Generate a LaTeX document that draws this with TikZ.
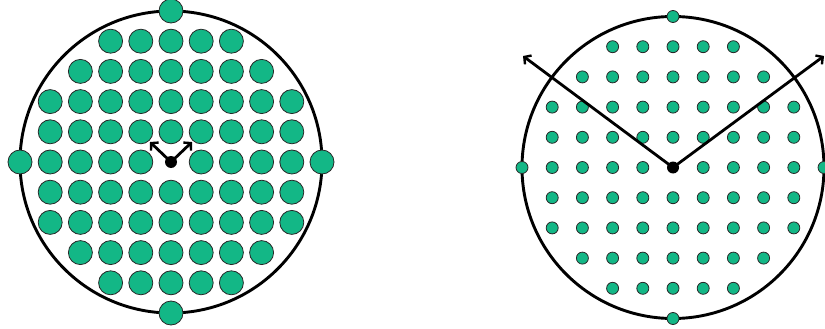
\documentclass[tikz,border=0pt]{standalone}
\usetikzlibrary{arrows.meta}
\definecolor{dotgreen}{RGB}{19,183,134}
\definecolor{dotedge}{RGB}{40,40,40}
\begin{document}
\begin{tikzpicture}[x=1pt,y=-1pt,
  bigdot/.style={circle,draw=dotedge,fill=dotgreen,line width=0.8pt,inner sep=0pt,minimum size=24pt},
  smalldot/.style={circle,draw=dotedge,fill=dotgreen,line width=0.8pt,inner sep=0pt,minimum size=12pt},
  ring/.style={circle,draw=black,line width=2.9pt,inner sep=0pt,minimum size=302pt},
  hub/.style={circle,fill=black,inner sep=0pt,minimum size=12pt},
  arr/.style={line width=2.8pt,-{Straight Barb[length=5pt,width=11pt,line width=2.4pt]}}]
\useasboundingbox (0,0) rectangle (825,329);
% left figure
\node[ring] (Lring) at (171,162) {};
\foreach \i in {-4,...,4}{
  \foreach \j in {-4,...,4}{
    \pgfmathtruncatemacro\rr{\i*\i+\j*\j}
    \ifnum\rr<21 \ifnum\rr>0
      \node[bigdot] (L\i x\j) at ({171+30.2*\i},{162+30.2*\j}) {};
    \fi\fi
  }
}
\node[bigdot] (Ltop) at (171,11) {};
\node[bigdot] (Lbot) at (171,313) {};
\node[bigdot] (Lleft) at (20,162) {};
\node[bigdot] (Lright) at (322,162) {};
\node[hub] (Lc) at (171,162) {};
\coordinate (Lt1) at (150,142);
\coordinate (Lt2) at (192,142);
\draw[arr] (Lc.center) -- (Lt1);
\draw[arr] (Lc.center) -- (Lt2);
% right figure
\node[ring] (Rring) at (673,167.5) {};
\foreach \i in {-4,...,4}{
  \foreach \j in {-4,...,4}{
    \pgfmathtruncatemacro\rr{\i*\i+\j*\j}
    \ifnum\rr<21 \ifnum\rr>0
      \node[smalldot] (R\i x\j) at ({673+30.2*\i},{167.5+30.2*\j}) {};
    \fi\fi
  }
}
\node[smalldot] (Rtop) at (673,16.5) {};
\node[smalldot] (Rbot) at (673,318.5) {};
\node[smalldot] (Rleft) at (522,167.5) {};
\node[smalldot] (Rright) at (824,167.5) {};
\node[hub] (Rc) at (673,167.5) {};
\coordinate (Rt1) at (523,56);
\coordinate (Rt2) at (824,56);
\draw[arr] (Rc.center) -- (Rt1);
\draw[arr] (Rc.center) -- (Rt2);
\end{tikzpicture}
\end{document}
